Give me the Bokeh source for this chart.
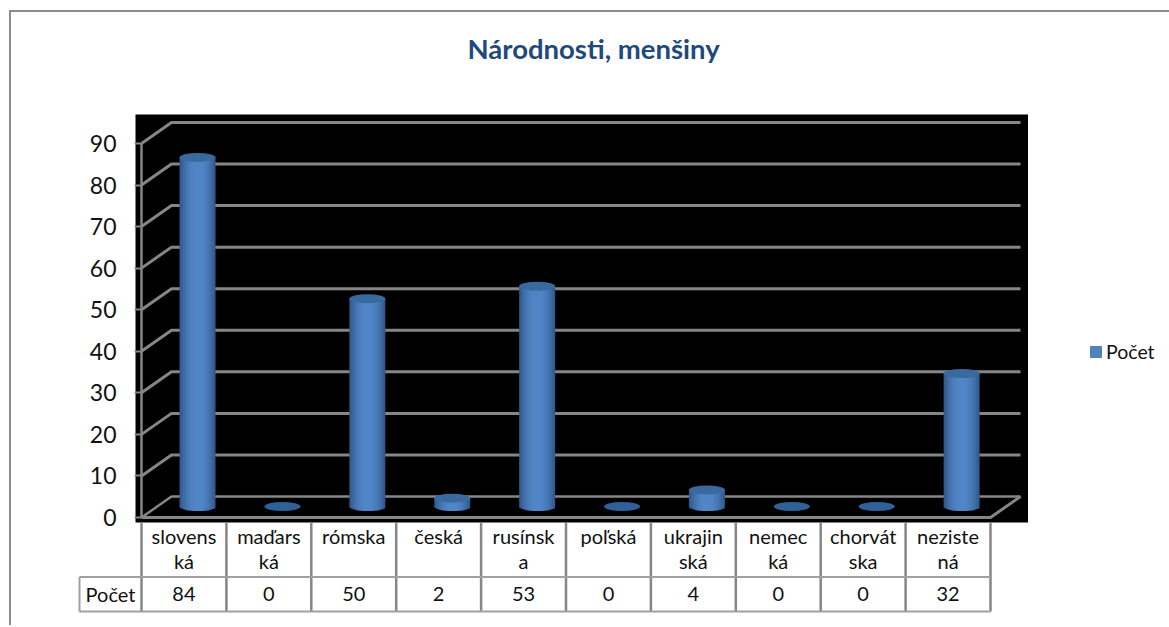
import numpy as np
from bokeh.plotting import figure
from bokeh.layouts import column, row
from bokeh.models import Range1d, Legend, LegendItem, FixedTicker, Title, LinearAxis
from bokeh.core.properties import value
from bokeh.embed import file_html
from bokeh.resources import INLINE

categories = ["slovens\nká", "maďars\nká", "rómska", "česká", "rusínsk\na",
              "poľská", "ukrajin\nská", "nemec\nká", "chorvát\nska", "neziste\nná"]
values = [84, 0, 50, 2, 53, 0, 4, 0, 0, 32]
y_ticks = [0, 10, 20, 30, 40, 50, 60, 70, 80, 90]
series_name = "Počet"
title_text = "Národnosti, menšiny"

FONT = value("Lato")
GRID = "#868686"
TABLE = "#a0a0a0"
OX, OY = 11, 12        # window pixel where the inner content starts
W, H = 1017, 613       # chart + table block (right edge at the frame's right edge)
LW = 141               # legend block width
PX = 84.9      # pixels per category
PY = 4.156     # pixels per unit
X0, Y0 = 141, 517    # window pixel of category 0 / value 0
FL, FR, FT, FB = 135, 1028, 114, 522   # black frame in window pixels
DX, DY = 30 / PX, 21 / PY   # depth of the 3D box
BACK_END = 10 + DX
BAR_C, BAR_W = 0.66, 36 / PX
BASE = 11 / PY
EH = 9 / PY
LAP = 15               # room below the frame for the "0" tick label

p = figure(width=W, height=FB - OY + LAP, output_backend="svg", toolbar_location=None,
           x_range=Range1d((FL - X0) / PX, (FR - X0) / PX),
           y_range=Range1d((Y0 - FB) / PY, (Y0 - FT) / PY),
           min_border_left=FL - OX, min_border_right=0, min_border_top=FT - OY,
           min_border_bottom=LAP, background_fill_color="black", outline_line_color=None,
           x_axis_location=None, border_fill_color="white")
p.grid.visible = False
ax = p.yaxis[0]
ax.ticker = FixedTicker(ticks=y_ticks)
ax.axis_line_color = None
ax.major_tick_line_color = GRID
ax.major_tick_line_width = 2
ax.major_tick_in = 6
ax.major_tick_out = 1
ax.minor_tick_line_color = None
ax.major_label_text_font = "Lato"
ax.major_label_text_font_size = "23px"
ax.major_label_text_color = "#111111"
ax.major_label_standoff = 18

# 3D box
for v in y_ticks:
    p.line([0, DX, BACK_END], [v, v + DY, v + DY], line_color=GRID, line_width=3 if v else 2.5)
p.line([0, 0], [0, y_ticks[-1]], line_color=GRID, line_width=2.5)
p.line([0, 10, BACK_END], [0, 0, DY], line_color=GRID, line_width=3)

# cylinders
N = 22
edges = np.linspace(-1, 1, N + 1)
mids = (edges[:-1] + edges[1:]) / 2
dark, light = np.array([0x2f, 0x55, 0x86]), np.array([0x52, 0x86, 0xc8])
for i, v in enumerate(values):
    xc = i + BAR_C
    if v > 0:
        for t_mid, t0, t1 in zip(mids, edges[:-1], edges[1:]):
            c = dark + (light - dark) * (1 - abs(t_mid) ** 2.2)
            col = "#%02x%02x%02x" % tuple(int(k) for k in c)
            bottom = BASE - EH / 2 * np.sqrt(max(1 - t_mid * t_mid, 0))
            right = t1 + (0.06 if t1 < 1 else 0)
            p.quad(left=[xc + t0 * BAR_W / 2], right=[xc + right * BAR_W / 2], bottom=[bottom],
                   top=[BASE + v], fill_color=col, line_color=None)
    p.ellipse(x=[xc], y=[BASE + v], width=BAR_W, height=EH,
              fill_color="#396a9f" if v else "#2f6098", line_color=None)

# unlabelled axis above the frame: only holds the title at its height
spacer = LinearAxis(ticker=FixedTicker(ticks=[1]), axis_line_color=None, major_tick_in=0,
                    major_tick_out=37, major_tick_line_color=None, minor_tick_line_color=None,
                    major_label_overrides={1: ""}, major_label_standoff=0)
p.add_layout(spacer, "above")
title = Title(text=title_text, align="left", offset=467 - FL, standoff=25,
              text_font="Lato", text_font_style="bold", text_font_size="27.5px",
              text_color="#1f497d")
p.add_layout(title, "above")

# data table below the plot: x in category units, y in window pixels of the table rows
T_TOP, T_ROW, T_BOT = 522, 576.5, 611
t = figure(width=W, height=H - (FB - OY), output_backend="svg", toolbar_location=None,
           x_range=Range1d((OX - X0) / PX, (OX + W - X0) / PX),
           y_range=Range1d(OY + H, FB), min_border=0, outline_line_color=None,
           x_axis_location=None, y_axis_location=None,
           background_fill_alpha=0, border_fill_alpha=0)
t.grid.visible = False
xL = (79 - X0) / PX
for k in range(len(categories) + 1):
    t.line([k, k], [T_TOP, T_BOT], line_color=GRID, line_width=2.5)
t.line([xL, 10], [T_ROW, T_ROW], line_color=TABLE, line_width=2)
t.line([xL, 10], [T_BOT, T_BOT], line_color=TABLE, line_width=2)
t.line([xL, xL], [T_ROW, T_BOT], line_color=TABLE, line_width=2)
xs = [i + 0.5 for i in range(len(categories))]
t.text(x=xs, y=[523] * len(xs), text=categories, text_align="center", text_baseline="top",
       text_font=FONT, text_font_size="20px", text_color="#111111", text_line_height=1.08)
t.text(x=xs, y=[593] * len(xs), text=[str(v) for v in values], text_align="center",
       text_baseline="middle", text_font=FONT, text_font_size="20px", text_color="#111111")
t.text(x=[xL / 2], y=[593], text=[series_name], text_align="center", text_baseline="middle",
       text_font=FONT, text_font_size="20px", text_color="#111111")

# legend block on the right
l = figure(width=LW, height=H, output_backend="svg", toolbar_location=None,
           x_range=Range1d(0, 1), y_range=Range1d(0, 1), min_border=0, outline_line_color=None,
           x_axis_location=None, y_axis_location=None, background_fill_alpha=0, border_fill_alpha=0)
l.grid.visible = False
legend_r = l.quad(left=[-3], right=[-2], bottom=[-3], top=[-2], fill_color="#4f81bd", line_color=None)
legend = Legend(items=[LegendItem(label=series_name, renderers=[legend_r])],
                location=(1088 - FR, OY + H - 363), background_fill_alpha=0, border_line_color=None,
                padding=0, margin=0, glyph_width=15, glyph_height=15, label_standoff=3,
                label_text_font="Lato", label_text_font_size="19.5px", label_text_color="#111111")
l.add_layout(legend, "center")

left_block = column(column(p), column(t, margin=(-LAP, 0, 0, 0)), spacing=0)
page = row(left_block, column(l), spacing=0, margin=(10, 0, 0, 9),
           styles={"border-left": "2px solid #8c8c8c", "border-top": "2px solid #8c8c8c"})
open("out.html", "w").write(file_html(page, INLINE))
